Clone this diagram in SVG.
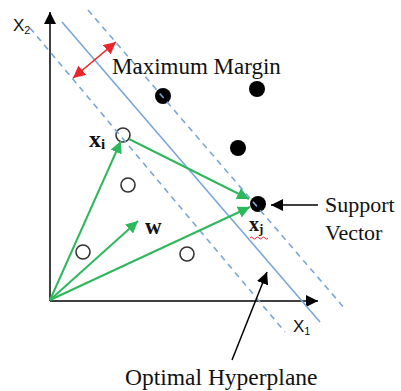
<svg xmlns="http://www.w3.org/2000/svg" width="401" height="391" viewBox="0 0 401 391">
<style>
.serif{font-family:"Liberation Serif","Times New Roman",serif;fill:#111}
.sans{font-family:"Liberation Sans",Arial,sans-serif;fill:#111}
.bold{font-weight:bold}
.hyper{stroke:#7aa6da;stroke-width:1.6;fill:none}
.margin{stroke:#7aa6da;stroke-width:1.6;fill:none;stroke-dasharray:6 5}
.green{stroke:#2eb85c;stroke-width:2;fill:none;marker-end:url(#ga)}
.black{stroke:#000;stroke-width:1.5;fill:none;marker-end:url(#ba)}
.filled{fill:#000}
.open{fill:#fff;stroke:#333;stroke-width:1.6}
</style>
<defs>
<marker id="ga" markerUnits="userSpaceOnUse" markerWidth="14" markerHeight="12" refX="12" refY="6" orient="auto"><path d="M0,0 L12,6 L0,12 Z" fill="#2eb85c"/></marker>
<marker id="ba" markerUnits="userSpaceOnUse" markerWidth="14" markerHeight="12" refX="12" refY="6" orient="auto"><path d="M0,0 L12,6 L0,12 Z" fill="#000"/></marker>
<marker id="ra" markerUnits="userSpaceOnUse" markerWidth="14" markerHeight="12" refX="12" refY="6" orient="auto-start-reverse"><path d="M0,0 L12,6 L0,12 Z" fill="#e8262b"/></marker>
</defs>
<rect width="401" height="391" fill="#fff"/>
<g id="axes">
<line x1="50" y1="301" x2="50" y2="12" class="black"/>
<line x1="50" y1="301" x2="318" y2="301" class="black"/>
<text class="sans" x="13" y="31" font-size="17">X<tspan font-size="11" dy="3">2</tspan></text>
<text class="sans" x="293" y="332" font-size="17">X<tspan font-size="11" dy="3">1</tspan></text>
</g>
<g id="points">
<circle class="filled" cx="163" cy="96" r="8"/>
<circle class="filled" cx="257" cy="89" r="8"/>
<circle class="filled" cx="238" cy="148" r="8"/>
<circle id="support-vector" class="filled" cx="258" cy="204" r="8"/>
<circle id="xi" class="open" cx="123" cy="135" r="7"/>
<circle class="open" cx="128" cy="185" r="7"/>
<circle class="open" cx="83" cy="252" r="7"/>
<circle class="open" cx="187" cy="254" r="7"/>
</g>
<g id="lines">
<line class="hyper" x1="62" y1="22" x2="320" y2="322"/>
<line class="margin" x1="88" y1="10" x2="346" y2="310"/>
<line class="margin" x1="30" y1="28" x2="285" y2="332"/>
</g>
<g id="connectors">
<line class="green" x1="50" y1="300" x2="121" y2="141"/>
<line class="green" x1="50" y1="300" x2="138" y2="221"/>
<line class="green" x1="50" y1="300" x2="250" y2="207"/>
<line class="green" x1="129" y1="139" x2="249" y2="199"/>
<line stroke="#e8262b" stroke-width="1.6" x1="73" y1="78" x2="116" y2="42" marker-start="url(#ra)" marker-end="url(#ra)"/>
<line class="black" x1="318" y1="205" x2="271" y2="205"/>
<line class="black" x1="232" y1="360" x2="267" y2="272"/>
</g>
<g id="labels">
<text class="serif" x="112" y="74" font-size="23">Maximum Margin</text>
<text class="serif" x="325" y="212" font-size="22">Support</text>
<text class="serif" x="325" y="240" font-size="22">Vector</text>
<text class="serif" x="125" y="385" font-size="23.5">Optimal Hyperplane</text>
<text class="serif bold" x="89" y="147" font-size="24">x<tspan font-size="15" dy="2">i</tspan></text>
<text class="serif bold" x="145" y="234" font-size="23">w</text>
<text class="serif bold" x="249" y="231" font-size="20">x<tspan font-size="13" dy="2">j</tspan></text>
<path d="M250,238 q1.5,-2 3,0 t3,0 t3,0 t3,0 t3,0 t3,0" fill="none" stroke="#e8262b" stroke-width="1"/>
</g>
</svg>
